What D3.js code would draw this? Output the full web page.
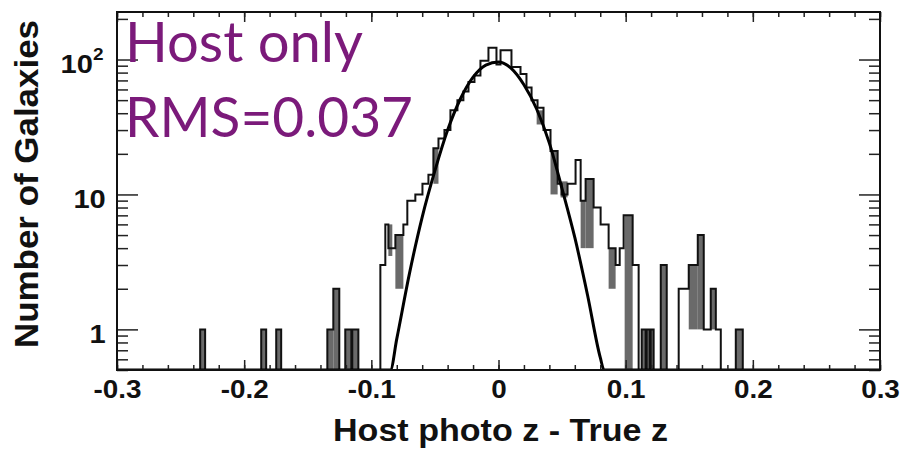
<!DOCTYPE html>
<html>
<head>
<meta charset="utf-8">
<script src="https://cdn.jsdelivr.net/npm/d3@7"></script>
<style>
  body { margin: 0; background: #fff; }
  svg { display: block; }
</style>
</head>
<body>
<svg id="chart"></svg>
<script>
// histogram: bin edges (photo z - true z) and counts per bin
const binEdges = [
  -0.2346, -0.2307, -0.1866, -0.1827, -0.1748, -0.1709, -0.1346, -0.1299,
  -0.1252, -0.1205, -0.1157, -0.115, -0.1102, -0.0929, -0.089, -0.0866,
  -0.0811, -0.0748, -0.0717, -0.0654, -0.0598, -0.0551, -0.0512, -0.0472,
  -0.0425, -0.0378, -0.0323, -0.0276, -0.0236, -0.0189, -0.0142, -0.0079,
  -0.0016, 0.0016, 0.0102, 0.0173, 0.022, 0.026, 0.0307, 0.0354, 0.0409,
  0.0465, 0.0496, 0.0543, 0.0606, 0.0646, 0.0685, 0.0748, 0.0803, 0.0866,
  0.0921, 0.0953, 0.0984, 0.1055, 0.1102, 0.1126, 0.1157, 0.1165, 0.1189,
  0.1197, 0.122, 0.1276, 0.1323, 0.1417, 0.1496, 0.1567, 0.1614, 0.1669,
  0.1709, 0.1748, 0.1866, 0.1921,
];
const binCounts = [
  1, 0, 1, 0, 1, 0, 1, 2, 0, 1, 0, 1, 0, 3, 6, 4, 5, 6, 9, 10, 12, 14, 22,
  26, 30, 42, 50, 58, 68, 76, 98, 122, 92, 117, 88, 78, 62, 50, 44, 30, 21,
  12, 10, 12, 18, 9, 13, 8, 6, 4, 3, 4, 7, 3, 0, 1, 0, 1, 0, 1, 0, 3, 0, 2,
  3, 5, 1, 2, 1, 0, 1,
];
// dark, densely hatched parts of the histogram: [x0, x1, low count, high count]
const grayBands = [
  [-0.2346, -0.2307, 0.5, 1], [-0.1866, -0.1827, 0.5, 1],
  [-0.1748, -0.1709, 0.5, 1], [-0.1346, -0.1299, 0.5, 1],
  [-0.1299, -0.1252, 0.5, 2], [-0.1205, -0.1102, 0.5, 1],
  [-0.0866, -0.0835, 3.5, 6], [-0.0811, -0.0748, 2, 5],
  [-0.0512, -0.0472, 12, 22], [0.03, 0.0354, 33, 42],
  [0.0409, 0.0465, 10, 21], [0.0488, 0.0543, 9.5, 12.5],
  [0.0646, 0.0685, 4, 9], [0.0685, 0.0748, 4, 13],
  [0.0866, 0.0921, 2, 4], [0.0992, 0.1055, 0.5, 7],
  [0.1126, 0.122, 0.5, 1], [0.1276, 0.1323, 0.5, 3],
  [0.1496, 0.1567, 1, 3], [0.1567, 0.1614, 1, 5],
  [0.1669, 0.1709, 1, 2], [0.1866, 0.1921, 0.5, 1],
];
// gaussian fit curve
const fitX = [-0.3, -0.085, -0.08, -0.07, -0.06, -0.05, -0.04, -0.03, -0.02,
  -0.01, 0, 0.01, 0.02, 0.03, 0.04, 0.05, 0.06, 0.07, 0.08, 0.083, 0.3];
const fitY = [0.5, 0.5, 0.85, 2.6, 6.8, 15, 30, 51, 74, 91, 96, 86, 65, 43,
  24, 11, 4.8, 1.8, 0.62, 0.5, 0.5];

const xTickValues = [-0.3, -0.2, -0.1, 0, 0.1, 0.2, 0.3];
const xTickLabels = ["-0.3", "-0.2", "-0.1", "0", "0.1", "0.2", "0.3"];
const yTickValues = [1, 10, 100];
const yTickLabels = ["1", "10", "10^2"];
const annotation = ["Host only", "RMS=0.037"];

// layout
const width = 903;
const height = 451;
const plotLeft = 117;
const plotRight = 880;
const plotTop = 12;
const plotBottom = 370;
const yMin = 0.5;
const yMax = 225;
const tickFont = "'Liberation Sans', Arial, Helvetica, sans-serif";

const svg = d3.select("#chart").attr("width", width).attr("height", height);

const xScale = d3.scaleLinear().domain([-0.3, 0.3]).range([plotLeft, plotRight]);
const yScale = d3.scaleLog().domain([yMin, yMax]).range([plotBottom, plotTop]).clamp(true);
const yPos = (c) => yScale(Math.max(c, yMin));

svg.append("rect").attr("width", width).attr("height", height).attr("fill", "#fff");

svg
  .append("clipPath")
  .attr("id", "plot-clip")
  .append("rect")
  .attr("x", plotLeft)
  .attr("y", plotTop)
  .attr("width", plotRight - plotLeft)
  .attr("height", plotBottom - plotTop);

const plot = svg.append("g").attr("clip-path", "url(#plot-clip)");

const drawHistogram = () => {
  plot
    .selectAll("rect.band")
    .data(grayBands)
    .enter()
    .append("rect")
    .attr("class", "band")
    .attr("x", (d) => xScale(d[0]))
    .attr("width", (d) => xScale(d[1]) - xScale(d[0]))
    .attr("y", (d) => yPos(d[3]))
    .attr("height", (d) => yPos(d[2]) - yPos(d[3]))
    .attr("fill", "#6a6a6a");

  // step outline: start at the floor, one point per bin, back to the floor
  let pts = [[binEdges[0], 0]];
  binCounts.forEach((c, i) => pts.push([binEdges[i], c]));
  pts.push([binEdges[binEdges.length - 1], 0]);

  const step = d3
    .line()
    .x((d) => xScale(d[0]))
    .y((d) => yPos(d[1]))
    .curve(d3.curveStepAfter);

  plot
    .append("path")
    .attr("d", step(pts))
    .attr("fill", "none")
    .attr("stroke", "#111")
    .attr("stroke-width", 2);
};

const drawFit = () => {
  const fitLine = d3
    .line()
    .x((d, i) => xScale(fitX[i]))
    .y((d) => yPos(d))
    .curve(d3.curveMonotoneX);
  plot
    .append("path")
    .attr("d", fitLine(fitY))
    .attr("fill", "none")
    .attr("stroke", "#000")
    .attr("stroke-width", 3);
};

const drawAxes = () => {
  const xMinor = d3.range(-0.3, 0.3001, 0.02).map((v) => +v.toFixed(2));
  const yMinor = [];
  [0.1, 1, 10, 100].forEach((dec) =>
    d3.range(2, 10).forEach((m) => {
      const v = dec * m;
      if (v >= yMin && v <= yMax) yMinor.push(v);
    })
  );

  const tickAxes = [
    [d3.axisBottom(xScale).tickValues(xMinor).tickSize(-5), `translate(0,${plotBottom})`],
    [d3.axisBottom(xScale).tickValues(xTickValues).tickSize(-10), `translate(0,${plotBottom})`],
    [d3.axisTop(xScale).tickValues(xMinor).tickSize(-5), `translate(0,${plotTop})`],
    [d3.axisTop(xScale).tickValues(xTickValues).tickSize(-10), `translate(0,${plotTop})`],
    [d3.axisLeft(yScale).tickValues(yMinor).tickSize(-11), `translate(${plotLeft},0)`],
    [d3.axisLeft(yScale).tickValues(yTickValues).tickSize(-21), `translate(${plotLeft},0)`],
    [d3.axisRight(yScale).tickValues(yMinor).tickSize(-11), `translate(${plotRight},0)`],
    [d3.axisRight(yScale).tickValues(yTickValues).tickSize(-21), `translate(${plotRight},0)`],
  ];
  tickAxes.forEach(([axis, tr]) => {
    const g = svg.append("g").attr("transform", tr).call(axis.tickFormat(""));
    g.select(".domain").remove();
    g.selectAll("line").attr("stroke", "#222").attr("stroke-width", 1.5);
  });

  // labels
  const xLab = svg
    .append("g")
    .attr("transform", `translate(0,${plotBottom})`)
    .call(
      d3.axisBottom(xScale).tickValues(xTickValues).tickSize(0).tickPadding(10)
        .tickFormat((d, i) => xTickLabels[i])
    );
  xLab.select(".domain").remove();
  xLab.selectAll("text")
    .attr("font-family", tickFont)
    .attr("font-weight", "bold")
    .attr("font-size", 26)
    .attr("fill", "#111")
    .each(function () {
      // the original lettering runs a little wider than Liberation Sans
      const w = this.getComputedTextLength();
      d3.select(this).attr("textLength", w * 1.07).attr("lengthAdjust", "spacingAndGlyphs");
    });

  const yLab = svg
    .append("g")
    .attr("transform", `translate(${plotLeft},0)`)
    .call(
      d3.axisLeft(yScale).tickValues(yTickValues).tickSize(0).tickPadding(10)
        .tickFormat((d, i) => yTickLabels[i])
    );
  yLab.select(".domain").remove();
  yLab.selectAll("text")
    .attr("dy", "0.5em")
    .attr("font-family", tickFont)
    .attr("font-weight", "bold")
    .attr("font-size", 26)
    .attr("fill", "#111")
    .each(function (d, i) {
      const t = d3.select(this);
      const parts = yTickLabels[i].split("^");
      t.text(null);
      t.append("tspan").text(parts[0]);
      if (parts[1]) {
        t.attr("x", -12);
        t.append("tspan").attr("font-size", 17).attr("dy", "-0.75em").text(parts[1]);
      }
      t.attr("transform", "scale(1.12,1)");
    });

  svg
    .append("rect")
    .attr("x", plotLeft)
    .attr("y", plotTop)
    .attr("width", plotRight - plotLeft)
    .attr("height", plotBottom - plotTop)
    .attr("fill", "none")
    .attr("stroke", "#111")
    .attr("stroke-width", 2);
};

const drawTitles = () => {
  svg
    .append("text")
    .attr("x", (plotLeft + plotRight) / 2 + 2)
    .attr("y", 441)
    .attr("text-anchor", "middle")
    .attr("font-family", tickFont)
    .attr("font-weight", "bold")
    .attr("font-size", 31)
    .attr("textLength", 335)
    .attr("lengthAdjust", "spacingAndGlyphs")
    .attr("fill", "#111")
    .text("Host photo z - True z");

  svg
    .append("text")
    .attr("transform", "translate(38,184) rotate(-90)")
    .attr("text-anchor", "middle")
    .attr("font-family", tickFont)
    .attr("font-weight", "bold")
    .attr("font-size", 34)
    .attr("textLength", 328)
    .attr("lengthAdjust", "spacingAndGlyphs")
    .attr("fill", "#111")
    .text("Number of Galaxies");

  svg
    .selectAll("text.note")
    .data(annotation)
    .enter()
    .append("text")
    .attr("class", "note")
    .attr("x", 125)
    .attr("y", (d, i) => 62 + i * 75)
    .attr("font-family", "Lato, 'Open Sans', sans-serif")
    .attr("font-size", 56)
    .attr("textLength", (d, i) => (i === 0 ? 238 : 288))
    .attr("lengthAdjust", "spacingAndGlyphs")
    .attr("fill", "#7b1a7a")
    .text((d) => d);
};

drawHistogram();
drawFit();
drawAxes();
drawTitles();
</script>
</body>
</html>
